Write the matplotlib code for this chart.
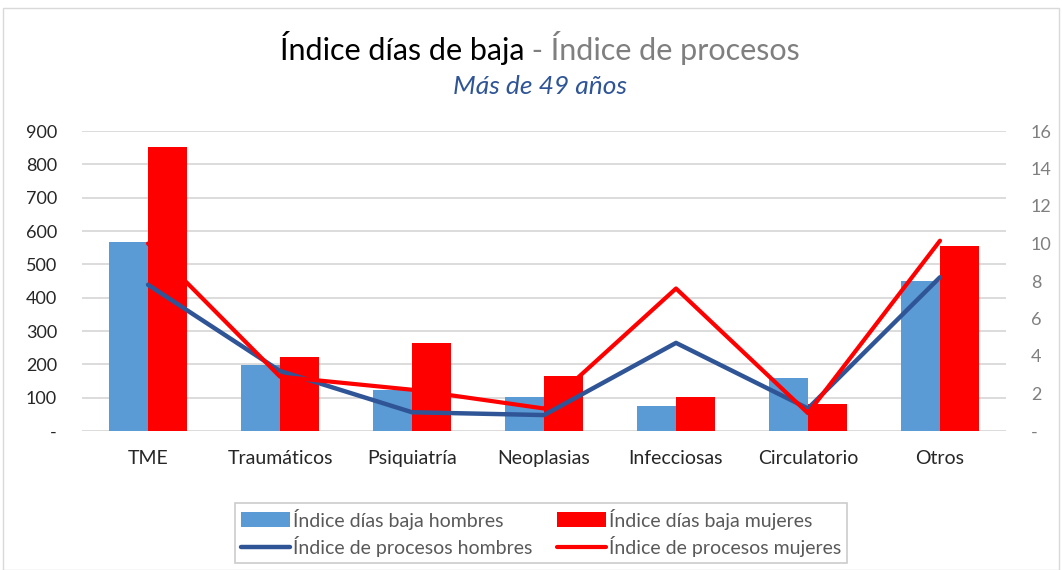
import numpy as np
import matplotlib
matplotlib.use('Agg')
import matplotlib.pyplot as plt
from matplotlib.patches import Rectangle

# chart data
categorias = ['TME', 'Traumáticos', 'Psiquiatría', 'Neoplasias', 'Infecciosas', 'Circulatorio', 'Otros']
dias_hombres = [567, 197, 122, 102, 76, 160, 451]
dias_mujeres = [853, 222, 265, 165, 103, 81, 556]
procesos_hombres = [7.8, 3.2, 1.0, 0.85, 4.7, 1.2, 8.2]
procesos_mujeres = [10.0, 2.9, 2.2, 1.2, 7.6, 0.95, 10.15]

left_ticks = [0, 100, 200, 300, 400, 500, 600, 700, 800, 900]
left_labels = ['-', '100', '200', '300', '400', '500', '600', '700', '800', '900']
right_ticks = [0, 2, 4, 6, 8, 10, 12, 14, 16]
right_labels = ['-', '2', '4', '6', '8', '10', '12', '14', '16']

plt.rcParams['font.family'] = ['Lato', 'DejaVu Sans']

fig = plt.figure(figsize=(10.62, 5.70), dpi=100)
ax1 = fig.add_axes([82 / 1062, 1 - 431 / 570, (1006 - 82) / 1062, 300 / 570])
ax2 = ax1.twinx()

x = np.arange(len(categorias))
w = 0.295
b1 = ax1.bar(x - w / 2, dias_hombres, width=w, color='#5B9BD5', zorder=2,
             label='Índice días baja hombres')
b2 = ax1.bar(x + w / 2, dias_mujeres, width=w, color='#FF0000', zorder=2,
             label='Índice días baja mujeres')

l1, = ax2.plot(x, procesos_hombres, color='#2F5597', lw=3.2, solid_capstyle='round',
               label='Índice de procesos hombres')
l2, = ax2.plot(x, procesos_mujeres, color='#FF0000', lw=3.0, solid_capstyle='round',
               label='Índice de procesos mujeres')

ax1.set_xlim(-0.5, len(categorias) - 0.5)
ax1.set_ylim(0, 900)
ax2.set_ylim(0, 16)

ax1.set_yticks(left_ticks)
ax1.set_yticklabels(left_labels, fontsize=13, color='#262626')
ax2.set_yticks(right_ticks)
ax2.set_yticklabels(right_labels, fontsize=13, color='#7F7F7F')
ax1.set_xticks(x)
ax1.set_xticklabels(categorias, fontsize=14, color='#262626')

ax1.grid(axis='y', color='#D9D9D9', lw=1.3, zorder=0)
ax1.set_axisbelow(True)
ax1.tick_params(axis='both', length=0)
ax1.tick_params(axis='y', pad=18)
ax1.tick_params(axis='x', pad=14)
ax2.tick_params(axis='y', length=0, pad=18)
for a in (ax1, ax2):
    for s in a.spines.values():
        s.set_visible(False)

# titles
fig.text(524 / 1062, 1 - 48 / 570, 'Índice días de baja', fontsize=22, color='black',
         ha='right', va='center')
fig.text(524 / 1062, 1 - 48 / 570, ' - Índice de procesos', fontsize=22, color='#7F7F7F',
         ha='left', va='center')
fig.text(540 / 1062, 1 - 86 / 570, 'Más de 49 años', fontsize=19, color='#2F5597',
         style='italic', ha='center', va='center')

leg = fig.legend(handles=[b1, l1, b2, l2], ncol=2, loc='center',
                 bbox_to_anchor=(541 / 1062, 1 - 533 / 570), fontsize=14,
                 frameon=True, fancybox=False, edgecolor='#BFBFBF',
                 handlelength=2.5, handleheight=0.8, handletextpad=0.15,
                 columnspacing=1.3, labelspacing=0.35, borderpad=0.3)
leg.get_frame().set_linewidth(1.2)
for t in leg.get_texts():
    t.set_color('#595959')

# outer chart border
fig.patches.append(Rectangle((3 / 1062, 0), 1 - 6 / 1062, 1 - 8 / 570, transform=fig.transFigure,
                             fill=False, edgecolor='#D9D9D9', lw=1))

fig.savefig('out.png', dpi=100)
